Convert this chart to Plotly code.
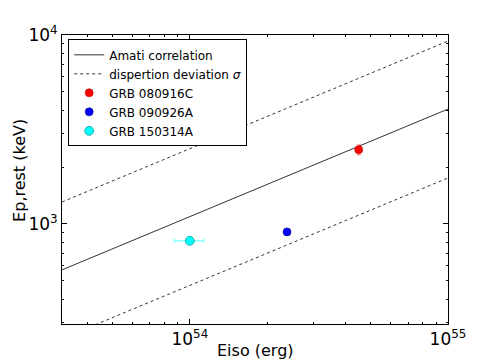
import plotly.graph_objects as go

# Amati relation + 1 sigma band, read at the two plot edges
line_eiso = [3.2e53, 1e55]
amati_ep = [571, 4055]
upper_ep = [1306, 9290]
lower_ep = [247, 1750]

# GRBs
grb_names = ["GRB 080916C", "GRB 090926A", "GRB 150314A"]
grb_eiso = [4.51e54, 2.38e54, 1.0e54]
grb_eiso_err = [0.0, 0.03e54, 0.13e54]
grb_ep = [2472, 907, 813]
grb_ep_err = [150, 20, 10]
grb_colors = ["red", "blue", "cyan"]
err_colors = ["rgba(255,0,0,0.45)", "rgba(0,0,255,0.45)", "rgba(0,255,255,0.55)"]
edge_colors = ["#b00000", "#000080", "#007a7a"]
sizes = [8, 8, 9]

fig = go.Figure()
fig.add_trace(go.Scatter(x=line_eiso, y=amati_ep, mode="lines", name="Amati correlation",
                         line=dict(color="#333333", width=1)))
fig.add_trace(go.Scatter(x=line_eiso, y=upper_ep, mode="lines", name="dispertion deviation <i>σ</i>",
                         line=dict(color="#333333", width=1, dash="3px,3px")))
fig.add_trace(go.Scatter(x=line_eiso, y=lower_ep, mode="lines", showlegend=False,
                         line=dict(color="#333333", width=1, dash="3px,3px")))

for i in range(len(grb_names)):
    fig.add_trace(go.Scatter(
        x=[grb_eiso[i]], y=[grb_ep[i]], mode="markers", name=grb_names[i],
        marker=dict(color=grb_colors[i], size=sizes[i], line=dict(color=edge_colors[i], width=0.6)),
        error_x=dict(type="data", array=[grb_eiso_err[i]], color=err_colors[i], thickness=1.2, width=2),
        error_y=dict(type="data", array=[grb_ep_err[i]], color=err_colors[i], thickness=1.2, width=2),
    ))

tick_font = dict(family="DejaVu Sans", size=17, color="black")
title_font = dict(family="DejaVu Sans", size=16, color="black")
fig.update_xaxes(type="log", range=[53.505, 55], tickvals=[1e54, 1e55],
                 ticktext=["10<sup>54</sup>", "10<sup>55</sup>"], tickfont=tick_font,
                 ticks="inside", ticklen=5, tickcolor="black", mirror="allticks", automargin=False,
                 showline=True, linecolor="black", linewidth=1, showgrid=False, zeroline=False,
                 minor=dict(ticks="inside", ticklen=2, tickcolor="black", dtick="D1", showgrid=False))
fig.update_yaxes(type="log", range=[2.47, 4], tickvals=[1e3, 1e4],
                 ticktext=["10<sup>3</sup>", "10<sup>4</sup>"], tickfont=tick_font,
                 ticks="inside", ticklen=5, tickcolor="black", mirror="allticks", automargin=False,
                 showline=True, linecolor="black", linewidth=1, showgrid=False, zeroline=False,
                 minor=dict(ticks="inside", ticklen=2, tickcolor="black", dtick="D1", showgrid=False))

# axis titles as annotations so they sit where the reference has them
fig.add_annotation(text="Eiso (erg)", xref="paper", yref="paper", x=0.5, y=-0.09,
                   xanchor="center", yanchor="middle", showarrow=False, font=title_font)
fig.add_annotation(text="Ep,rest (keV)", xref="paper", yref="paper", x=-0.109, y=0.533,
                   xanchor="center", yanchor="middle", showarrow=False, textangle=-90, font=title_font)

# page body has an 8px margin, so the plot area is placed 8px up/left
fig.update_layout(
    width=498, height=359,
    margin=dict(l=54, r=58, t=27, b=43),
    paper_bgcolor="white", plot_bgcolor="white",
    font=dict(family="DejaVu Sans", color="black"),
    legend=dict(x=0.016, y=0.985, xanchor="left", yanchor="top",
                bgcolor="white", bordercolor="black", borderwidth=1,
                font=dict(family="DejaVu Sans", size=12, color="black"),
                itemwidth=30, tracegroupgap=0),
)

fig.write_html("out.html")
